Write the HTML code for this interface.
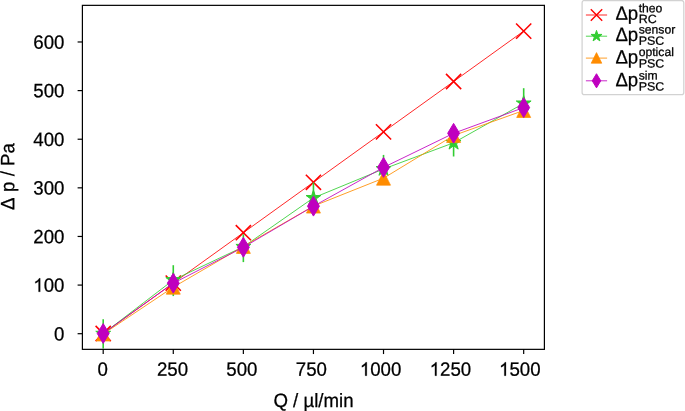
<!DOCTYPE html><html><head><meta charset="utf-8"><style>html,body{margin:0;padding:0;background:#fff}</style></head><body><svg width="685" height="411" viewBox="0 0 685 411" style="display:block;will-change:transform">
<rect width="685" height="411" fill="#fff"/>
<g font-family="Liberation Sans, sans-serif" font-size="18.67" fill="#000">
<polyline points="103.20,333.50 173.28,283.08 243.36,232.71 313.44,182.29 383.52,131.87 453.60,81.50 523.68,31.08" fill="none" stroke="#ff0000" stroke-width="0.85"/>
<path d="M95.60 325.90L110.80 341.10M95.60 341.10L110.80 325.90" stroke="#ff0000" stroke-width="1.55" fill="none"/>
<path d="M165.68 275.48L180.88 290.68M165.68 290.68L180.88 275.48" stroke="#ff0000" stroke-width="1.55" fill="none"/>
<path d="M235.76 225.11L250.96 240.31M235.76 240.31L250.96 225.11" stroke="#ff0000" stroke-width="1.55" fill="none"/>
<path d="M305.84 174.69L321.04 189.89M305.84 189.89L321.04 174.69" stroke="#ff0000" stroke-width="1.55" fill="none"/>
<path d="M375.92 124.27L391.12 139.47M375.92 139.47L391.12 124.27" stroke="#ff0000" stroke-width="1.55" fill="none"/>
<path d="M446.00 73.90L461.20 89.10M446.00 89.10L461.20 73.90" stroke="#ff0000" stroke-width="1.55" fill="none"/>
<path d="M516.08 23.48L531.28 38.68M516.08 38.68L531.28 23.48" stroke="#ff0000" stroke-width="1.55" fill="none"/>
<polyline points="103.20,333.70 173.28,280.00 243.36,246.80 313.44,197.90 383.52,169.00 453.60,142.80 523.68,103.40" fill="none" stroke="#32cd32" stroke-width="0.85"/>
<line x1="103.20" x2="103.20" y1="319.3" y2="348.5" stroke="#32cd32" stroke-width="1.6"/>
<line x1="173.28" x2="173.28" y1="265.2" y2="296.1" stroke="#32cd32" stroke-width="1.6"/>
<line x1="243.36" x2="243.36" y1="234.3" y2="262.1" stroke="#32cd32" stroke-width="1.6"/>
<line x1="313.44" x2="313.44" y1="182.5" y2="213.5" stroke="#32cd32" stroke-width="1.6"/>
<line x1="383.52" x2="383.52" y1="154.9" y2="183" stroke="#32cd32" stroke-width="1.6"/>
<line x1="453.60" x2="453.60" y1="129" y2="156.5" stroke="#32cd32" stroke-width="1.6"/>
<line x1="523.68" x2="523.68" y1="88.2" y2="117.4" stroke="#32cd32" stroke-width="1.6"/>
<polygon points="103.20,325.90 101.45,331.29 95.78,331.29 100.37,334.62 98.62,340.01 103.20,336.68 107.78,340.01 106.03,334.62 110.62,331.29 104.95,331.29" fill="#32cd32" stroke="#32cd32" stroke-width="1" stroke-linejoin="miter"/>
<polygon points="173.28,272.20 171.53,277.59 165.86,277.59 170.45,280.92 168.70,286.31 173.28,282.98 177.86,286.31 176.11,280.92 180.70,277.59 175.03,277.59" fill="#32cd32" stroke="#32cd32" stroke-width="1" stroke-linejoin="miter"/>
<polygon points="243.36,239.00 241.61,244.39 235.94,244.39 240.53,247.72 238.78,253.11 243.36,249.78 247.94,253.11 246.19,247.72 250.78,244.39 245.11,244.39" fill="#32cd32" stroke="#32cd32" stroke-width="1" stroke-linejoin="miter"/>
<polygon points="313.44,190.10 311.69,195.49 306.02,195.49 310.61,198.82 308.86,204.21 313.44,200.88 318.02,204.21 316.27,198.82 320.86,195.49 315.19,195.49" fill="#32cd32" stroke="#32cd32" stroke-width="1" stroke-linejoin="miter"/>
<polygon points="383.52,161.20 381.77,166.59 376.10,166.59 380.69,169.92 378.94,175.31 383.52,171.98 388.10,175.31 386.35,169.92 390.94,166.59 385.27,166.59" fill="#32cd32" stroke="#32cd32" stroke-width="1" stroke-linejoin="miter"/>
<polygon points="453.60,135.00 451.85,140.39 446.18,140.39 450.77,143.72 449.02,149.11 453.60,145.78 458.18,149.11 456.43,143.72 461.02,140.39 455.35,140.39" fill="#32cd32" stroke="#32cd32" stroke-width="1" stroke-linejoin="miter"/>
<polygon points="523.68,95.60 521.93,100.99 516.26,100.99 520.85,104.32 519.10,109.71 523.68,106.38 528.26,109.71 526.51,104.32 531.10,100.99 525.43,100.99" fill="#32cd32" stroke="#32cd32" stroke-width="1" stroke-linejoin="miter"/>
<polyline points="103.20,334.00 173.28,287.20 243.36,246.40 313.44,206.10 383.52,178.20 453.60,135.50 523.68,110.50" fill="none" stroke="#ff8c00" stroke-width="0.85"/>
<polygon points="103.20,327.00 96.20,341.00 110.20,341.00" fill="#ff8c00" stroke="#ff8c00" stroke-width="0.7" stroke-linejoin="round"/>
<polygon points="173.28,280.20 166.28,294.20 180.28,294.20" fill="#ff8c00" stroke="#ff8c00" stroke-width="0.7" stroke-linejoin="round"/>
<polygon points="243.36,239.40 236.36,253.40 250.36,253.40" fill="#ff8c00" stroke="#ff8c00" stroke-width="0.7" stroke-linejoin="round"/>
<polygon points="313.44,199.10 306.44,213.10 320.44,213.10" fill="#ff8c00" stroke="#ff8c00" stroke-width="0.7" stroke-linejoin="round"/>
<polygon points="383.52,171.20 376.52,185.20 390.52,185.20" fill="#ff8c00" stroke="#ff8c00" stroke-width="0.7" stroke-linejoin="round"/>
<polygon points="453.60,128.50 446.60,142.50 460.60,142.50" fill="#ff8c00" stroke="#ff8c00" stroke-width="0.7" stroke-linejoin="round"/>
<polygon points="523.68,103.50 516.68,117.50 530.68,117.50" fill="#ff8c00" stroke="#ff8c00" stroke-width="0.7" stroke-linejoin="round"/>
<polyline points="103.20,333.50 173.28,283.20 243.36,247.30 313.44,206.20 383.52,167.40 453.60,133.30 523.68,107.60" fill="none" stroke="#bf00bf" stroke-width="0.85"/>
<polygon points="103.20,323.60 97.26,333.50 103.20,343.40 109.14,333.50" fill="#bf00bf" stroke="#bf00bf" stroke-width="1"/>
<polygon points="173.28,273.30 167.34,283.20 173.28,293.10 179.22,283.20" fill="#bf00bf" stroke="#bf00bf" stroke-width="1"/>
<polygon points="243.36,237.40 237.42,247.30 243.36,257.20 249.30,247.30" fill="#bf00bf" stroke="#bf00bf" stroke-width="1"/>
<polygon points="313.44,196.30 307.50,206.20 313.44,216.10 319.38,206.20" fill="#bf00bf" stroke="#bf00bf" stroke-width="1"/>
<polygon points="383.52,157.50 377.58,167.40 383.52,177.30 389.46,167.40" fill="#bf00bf" stroke="#bf00bf" stroke-width="1"/>
<polygon points="453.60,123.40 447.66,133.30 453.60,143.20 459.54,133.30" fill="#bf00bf" stroke="#bf00bf" stroke-width="1"/>
<polygon points="523.68,97.70 517.74,107.60 523.68,117.50 529.62,107.60" fill="#bf00bf" stroke="#bf00bf" stroke-width="1"/>
<rect x="82.4" y="5.35" width="462.0" height="344.0" fill="none" stroke="#000" stroke-width="1.2"/>
<line x1="103.20" x2="103.20" y1="349.35" y2="354.05" stroke="#000" stroke-width="1.2"/>
<text transform="translate(97.41 375.70) rotate(0.03) scale(1 1.035)" stroke="#000" stroke-width="0.25">0</text>
<line x1="173.28" x2="173.28" y1="349.35" y2="354.05" stroke="#000" stroke-width="1.2"/>
<text transform="translate(156.91 375.70) rotate(0.03) scale(1 1.035)" stroke="#000" stroke-width="0.25">250</text>
<line x1="243.36" x2="243.36" y1="349.35" y2="354.05" stroke="#000" stroke-width="1.2"/>
<text transform="translate(226.29 375.70) rotate(0.03) scale(1 1.035)" stroke="#000" stroke-width="0.25">500</text>
<line x1="313.44" x2="313.44" y1="349.35" y2="354.05" stroke="#000" stroke-width="1.2"/>
<text transform="translate(295.87 375.70) rotate(0.03) scale(1 1.035)" stroke="#000" stroke-width="0.25">750</text>
<line x1="383.52" x2="383.52" y1="349.35" y2="354.05" stroke="#000" stroke-width="1.2"/>
<path transform="translate(359.85 375.70) rotate(0.03) scale(0.009116 -0.009116)" d="M763 0H583V1147Q518 1085 412 1023Q307 961 223 930V1104Q374 1175 487 1276Q600 1377 647 1472H763Z" fill="#000" stroke="#000" stroke-width="27.4"/><text transform="translate(370.24 375.70) rotate(0.03) scale(1 1.035)" stroke="#000" stroke-width="0.25">000</text>
<line x1="453.60" x2="453.60" y1="349.35" y2="354.05" stroke="#000" stroke-width="1.2"/>
<path transform="translate(429.63 375.70) rotate(0.03) scale(0.009116 -0.009116)" d="M763 0H583V1147Q518 1085 412 1023Q307 961 223 930V1104Q374 1175 487 1276Q600 1377 647 1472H763Z" fill="#000" stroke="#000" stroke-width="27.4"/><text transform="translate(440.02 375.70) rotate(0.03) scale(1 1.035)" stroke="#000" stroke-width="0.25">250</text>
<line x1="523.68" x2="523.68" y1="349.35" y2="354.05" stroke="#000" stroke-width="1.2"/>
<path transform="translate(499.01 375.70) rotate(0.03) scale(0.009116 -0.009116)" d="M763 0H583V1147Q518 1085 412 1023Q307 961 223 930V1104Q374 1175 487 1276Q600 1377 647 1472H763Z" fill="#000" stroke="#000" stroke-width="27.4"/><text transform="translate(509.40 375.70) rotate(0.03) scale(1 1.035)" stroke="#000" stroke-width="0.25">500</text>
<line x1="77.60000000000001" x2="82.4" y1="333.70" y2="333.70" stroke="#000" stroke-width="1.2"/>
<text transform="translate(54.02 340.40) rotate(0.03) scale(1 1.035)" stroke="#000" stroke-width="0.25">0</text>
<line x1="77.60000000000001" x2="82.4" y1="285.08" y2="285.08" stroke="#000" stroke-width="1.2"/>
<path transform="translate(33.25 291.78) rotate(0.03) scale(0.009116 -0.009116)" d="M763 0H583V1147Q518 1085 412 1023Q307 961 223 930V1104Q374 1175 487 1276Q600 1377 647 1472H763Z" fill="#000" stroke="#000" stroke-width="27.4"/><text transform="translate(43.63 291.78) rotate(0.03) scale(1 1.035)" stroke="#000" stroke-width="0.25">00</text>
<line x1="77.60000000000001" x2="82.4" y1="236.46" y2="236.46" stroke="#000" stroke-width="1.2"/>
<text transform="translate(33.25 243.16) rotate(0.03) scale(1 1.035)" stroke="#000" stroke-width="0.25">200</text>
<line x1="77.60000000000001" x2="82.4" y1="187.84" y2="187.84" stroke="#000" stroke-width="1.2"/>
<text transform="translate(33.25 194.54) rotate(0.03) scale(1 1.035)" stroke="#000" stroke-width="0.25">300</text>
<line x1="77.60000000000001" x2="82.4" y1="139.22" y2="139.22" stroke="#000" stroke-width="1.2"/>
<text transform="translate(33.25 145.92) rotate(0.03) scale(1 1.035)" stroke="#000" stroke-width="0.25">400</text>
<line x1="77.60000000000001" x2="82.4" y1="90.60" y2="90.60" stroke="#000" stroke-width="1.2"/>
<text transform="translate(33.25 97.30) rotate(0.03) scale(1 1.035)" stroke="#000" stroke-width="0.25">500</text>
<line x1="77.60000000000001" x2="82.4" y1="41.98" y2="41.98" stroke="#000" stroke-width="1.2"/>
<text transform="translate(33.25 48.68) rotate(0.03) scale(1 1.035)" stroke="#000" stroke-width="0.25">600</text>
<text transform="translate(313.5 407) rotate(0.03) scale(1 1.035)" text-anchor="middle" stroke="#000" stroke-width="0.25">Q / µl/min</text>
<text transform="translate(14.3 209.9) rotate(-90.03) scale(1 1.035)" stroke="#000" stroke-width="0.25">Δ</text>
<text transform="translate(14.3 197.1) rotate(-90.03) scale(1 1.035)" stroke="#000" stroke-width="0.25" xml:space="preserve"> p / Pa</text>
<rect x="582.1" y="0.5" width="101.7" height="94.2" rx="2.2" ry="2.2" fill="#fff" stroke="#d2d2d2" stroke-width="1.25"/>
<line x1="585.9" x2="607.1" y1="15.0" y2="15.0" stroke="#ff0000" stroke-width="0.85"/>
<path d="M590.80 9.30L602.20 20.70M590.80 20.70L602.20 9.30" stroke="#ff0000" stroke-width="1.4" fill="none"/>
<text transform="translate(615.4 19.70) rotate(0.03) scale(1 1.035)" stroke="#000" stroke-width="0.25">Δp</text>
<text transform="translate(638.7 12.20) rotate(0.03) scale(1.05 1.035)" font-size="11.6" stroke="#000" stroke-width="0.25">theo</text>
<text transform="translate(638.7 23.10) rotate(0.03) scale(1.075 1.035)" font-size="11.6" stroke="#000" stroke-width="0.25">RC</text>
<line x1="585.9" x2="607.1" y1="36.2" y2="36.2" stroke="#32cd32" stroke-width="0.85"/>
<polygon points="596.50,30.40 595.20,34.41 590.98,34.41 594.39,36.88 593.09,40.89 596.50,38.42 599.91,40.89 598.61,36.88 602.02,34.41 597.80,34.41" fill="#32cd32" stroke="#32cd32" stroke-width="1" stroke-linejoin="miter"/>
<text transform="translate(615.4 41.10) rotate(0.03) scale(1 1.035)" stroke="#000" stroke-width="0.25">Δp</text>
<text transform="translate(638.7 33.50) rotate(0.03) scale(1.05 1.035)" font-size="11.6" stroke="#000" stroke-width="0.25">sensor</text>
<text transform="translate(638.7 44.70) rotate(0.03) scale(1.075 1.035)" font-size="11.6" stroke="#000" stroke-width="0.25">PSC</text>
<line x1="585.9" x2="607.1" y1="58.1" y2="58.1" stroke="#ff8c00" stroke-width="0.85"/>
<polygon points="596.50,52.60 591.20,63.20 601.80,63.20" fill="#ff8c00" stroke="#ff8c00" stroke-width="0.7" stroke-linejoin="round"/>
<text transform="translate(615.4 63.50) rotate(0.03) scale(1 1.035)" stroke="#000" stroke-width="0.25">Δp</text>
<text transform="translate(638.7 56.10) rotate(0.03) scale(1.05 1.035)" font-size="11.6" stroke="#000" stroke-width="0.25">optical</text>
<text transform="translate(638.7 67.45) rotate(0.03) scale(1.075 1.035)" font-size="11.6" stroke="#000" stroke-width="0.25">PSC</text>
<line x1="585.9" x2="607.1" y1="80.8" y2="80.8" stroke="#bf00bf" stroke-width="0.85"/>
<polygon points="596.50,73.73 592.26,80.80 596.50,87.87 600.74,80.80" fill="#bf00bf" stroke="#bf00bf" stroke-width="1"/>
<text transform="translate(615.4 86.30) rotate(0.03) scale(1 1.035)" stroke="#000" stroke-width="0.25">Δp</text>
<text transform="translate(638.7 79.40) rotate(0.03) scale(1.05 1.035)" font-size="11.6" stroke="#000" stroke-width="0.25">sim</text>
<text transform="translate(638.7 90.50) rotate(0.03) scale(1.075 1.035)" font-size="11.6" stroke="#000" stroke-width="0.25">PSC</text>
</g></svg></body></html>
